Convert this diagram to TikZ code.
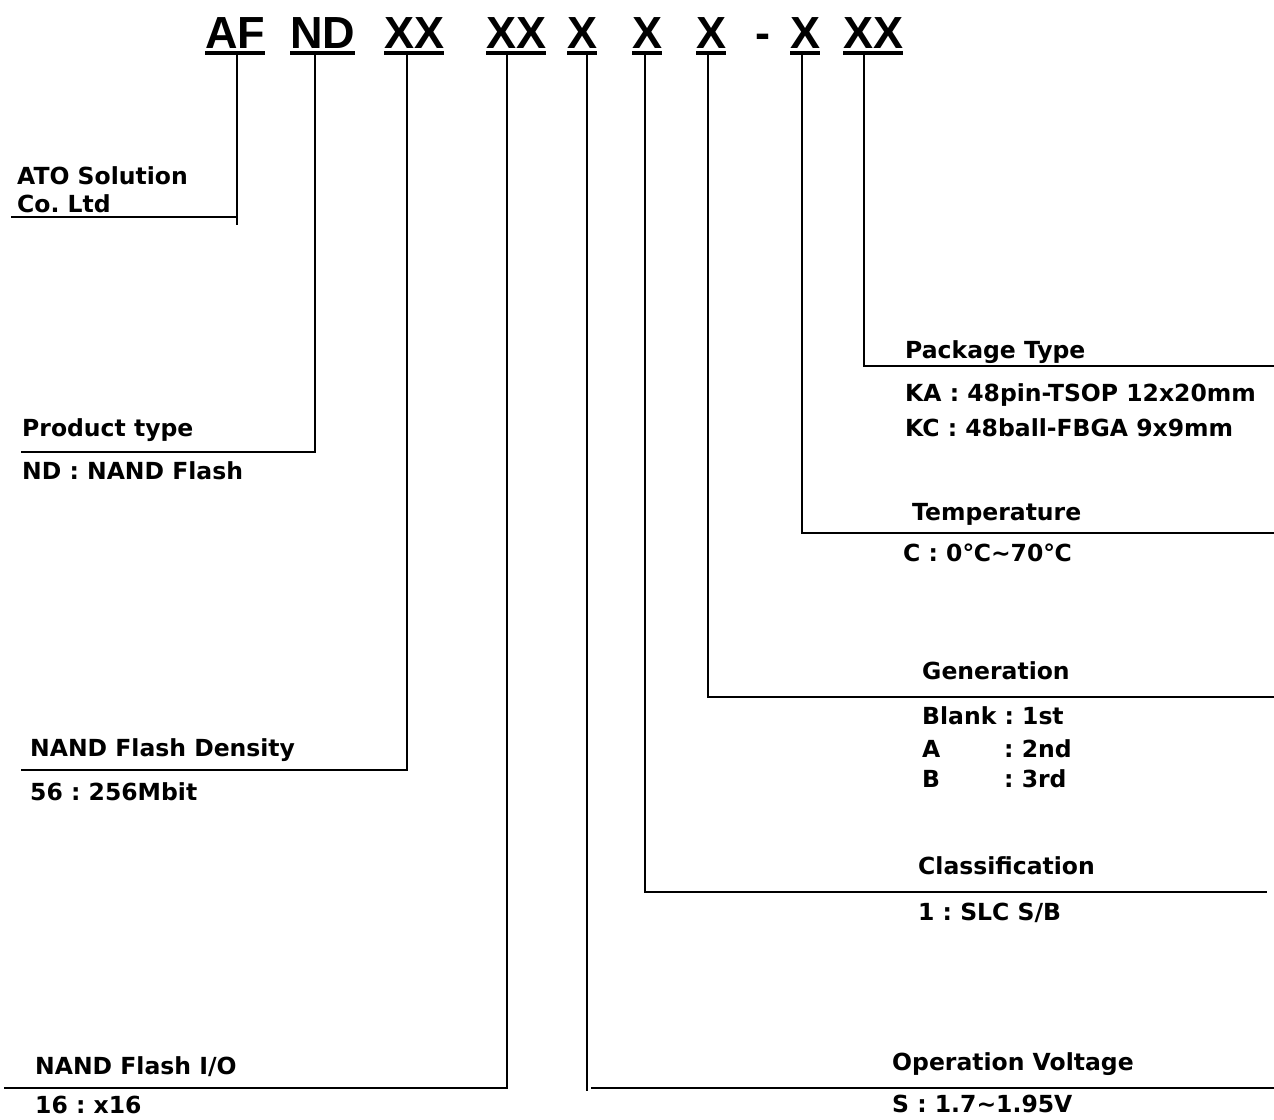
\documentclass[tikz,border=0pt]{standalone}
\usepackage{fontspec}
\usetikzlibrary{calc}
\setmainfont{DejaVu Sans}
\newfontfamily\titlefam{Liberation Sans}
\newcommand{\lblfont}{\fontsize{23.5}{28}\selectfont\bfseries}
\newcommand{\ttlfont}{\titlefam\fontsize{45}{50}\selectfont\bfseries}
\newcommand{\tld}{{\char"7E}}
\tikzset{
  lbl/.style={anchor=base west, inner sep=0pt, font=\lblfont},
  ttl/.style={anchor=base west, inner sep=0pt, font=\ttlfont},
  ln/.style={line width=2.2pt, line cap=rect},
  ul/.style={line width=4.5pt},
}
\frenchspacing
\begin{document}
\begin{tikzpicture}[x=1pt,y=-1pt]
\useasboundingbox (0,0) rectangle (1274,1119);
% title
\node[ttl] (t1) at (205,48) {AF};
\node[ttl] (t2) at (290,48) {ND};
\node[ttl] (t3) at (384,48) {XX};
\node[ttl] (t4) at (486,48) {XX};
\node[ttl] (t5) at (567,48) {X};
\node[ttl] (t6) at (632,48) {X};
\node[ttl] (t7) at (696,48) {X};
\node[ttl] (t8) at (755,48) {-};
\node[ttl] (t9) at (790,48) {X};
\node[ttl] (t10) at (843,48) {XX};
\foreach \n in {1,2,3,4,5,6,7,9,10}{
  \draw[ul] ($(t\n.base west)+(0,5)$) -- ($(t\n.base east)+(0,5)$);
}
% start points under the title
\coordinate (u1) at (237,54);
\coordinate (u2) at (315,54);
\coordinate (u3) at (407,54);
\coordinate (u4) at (507,54);
\coordinate (u5) at (587,54);
\coordinate (u6) at (645,54);
\coordinate (u7) at (708,54);
\coordinate (u9) at (802,54);
\coordinate (u10) at (864,54);
% free ends
\coordinate (e1) at (12,217);
\coordinate (k1) at (237,224);
\coordinate (e2) at (22,452);
\coordinate (e3) at (22,770);
\coordinate (e4) at (5,1088);
\coordinate (k5) at (587,1090);
\coordinate (s5) at (592,1088);
\coordinate (e5) at (1274,1088);
\coordinate (e6) at (1266,892);
\coordinate (e7) at (1274,697);
\coordinate (e9) at (1274,533);
\coordinate (e10) at (1274,366);
% connectors
\draw[ln] (u1) -- (k1);
\draw[ln] (e1) -- (e1 -| u1);
\draw[ln] (u2) |- (e2);
\draw[ln] (u3) |- (e3);
\draw[ln] (u4) |- (e4);
\draw[ln] (u5) -- (k5);
\draw[ln] (s5) -- (e5);
\draw[ln] (u6) |- (e6);
\draw[ln] (u7) |- (e7);
\draw[ln] (u9) |- (e9);
\draw[ln] (u10) |- (e10);
% left labels
\node[lbl] (a1) at (17,184) {ATO Solution};
\node[lbl] (a2) at (17,212) {Co. Ltd};
\node[lbl] (b1) at (22,436) {Product type};
\node[lbl] (b2) at (22,479) {ND : NAND Flash};
\node[lbl] (c1) at (30,756) {NAND Flash Density};
\node[lbl] (c2) at (30,800) {56 : 256Mbit};
\node[lbl] (d1) at (35,1074) {NAND Flash I/O};
\node[lbl] (d2) at (35,1113) {16 : x16};
% right labels
\node[lbl] (p1) at (905,358) {Package Type};
\node[lbl] (p2) at (905,401) {KA : 48pin-TSOP 12x20mm};
\node[lbl] (p3) at (905,436) {KC : 48ball-FBGA 9x9mm};
\node[lbl] (q1) at (912,520) {Temperature};
\node[lbl] (q2) at (903,561) {C : 0℃\tld70℃};
\node[lbl] (g1) at (922,679) {Generation};
\node[lbl] (g2) at (922,724) {Blank : 1st};
\node[lbl] (g3) at (922,757) {A};
\node[lbl] (g4) at (1004,757) {: 2nd};
\node[lbl] (g5) at (922,787) {B};
\node[lbl] (g6) at (1004,787) {: 3rd};
\node[lbl] (h1) at (918,874) {Classification};
\node[lbl] (h2) at (918,920) {1 : SLC S/B};
\node[lbl] (o1) at (892,1070) {Operation Voltage};
\node[lbl] (o2) at (892,1112) {S : 1.7\tld1.95V};
\end{tikzpicture}
\end{document}
